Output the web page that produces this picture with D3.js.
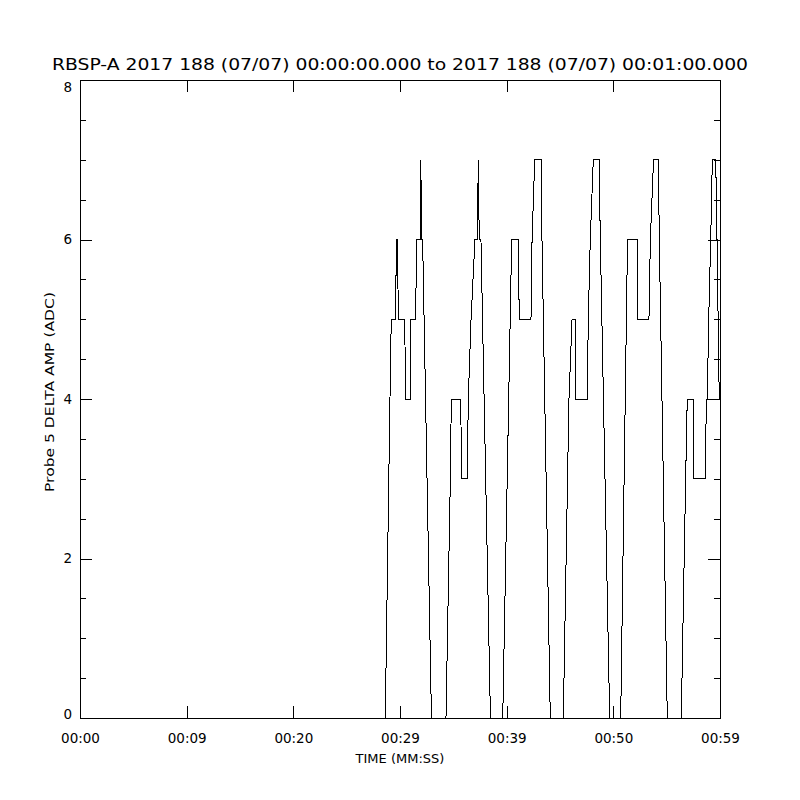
<!DOCTYPE html>
<html>
<head>
<meta charset="utf-8">
<script src="https://cdn.jsdelivr.net/npm/d3@7"></script>
<style>
  html, body { margin: 0; padding: 0; background: #fff; }
  svg { display: block; }
  text { font-family: "DejaVu Sans", "Liberation Sans", sans-serif; fill: #000; }
</style>
</head>
<body>
<svg id="chart" width="800" height="800"></svg>
<script>
// ---- data ----
const titleText = "RBSP-A 2017 188 (07/07) 00:00:00.000 to 2017 188 (07/07) 00:01:00.000";
const xAxisTitle = "TIME (MM:SS)";
const yAxisTitle = "Probe 5 DELTA AMP (ADC)";

const timeTicks = [0, 10, 20, 30, 40, 50, 60];
const timeTickLabels = ["00:00", "00:09", "00:20", "00:29", "00:39", "00:50", "00:59"];
const ampTicks = [0, 2, 4, 6, 8];
const ampMinorTicks = [0.5, 1, 1.5, 2.5, 3, 3.5, 4.5, 5, 5.5, 6.5, 7, 7.5];

// seconds after 00:00:00
const times = [
  0.00, 28.62,
  29.06, 29.18, 29.60, 29.65, 29.77, 29.84, 30.44, 30.53, 30.94, 31.03, 31.47, 31.55, 31.88, 31.95, 32.03, 32.12, 32.95,
  34.31, 34.72, 34.81, 35.69, 35.78, 36.31, 36.40, 36.66, 37.03, 37.25, 37.34, 37.43, 37.59, 38.48,
  39.63, 40.47, 41.09, 41.18, 42.28, 42.38, 42.63, 43.22, 43.31, 44.09,
  45.31, 45.84, 46.13, 46.41, 46.47, 47.56, 47.65, 47.84, 48.12, 48.66, 48.78, 49.66,
  50.69, 51.33, 52.25, 52.31, 53.34, 53.47, 53.77, 54.22, 54.31, 55.06,
  56.37, 56.78, 56.93, 57.50, 57.56, 58.62, 58.72, 58.81, 58.94, 59.13, 59.28, 59.60, 59.72, 59.93, 60.00, 58.72
];
// ADC counts
const amps = [
  0, 0,
  4, 5, 5, 6, 6, 5, 5, 4, 4, 5, 5, 6, 6, 7, 6, 6, 0,
  0, 3, 4, 4, 3, 3, 4, 5, 6, 6, 7, 6, 6, 0,
  0, 6, 6, 5, 5, 6, 7, 7, 6, 0,
  0, 4, 5, 5, 4, 4, 5, 6, 7, 7, 6, 0,
  0, 6, 6, 5, 5, 6, 7, 7, 6, 0,
  0, 3, 4, 4, 3, 3, 4, 4, 5, 6, 7, 7, 6, 4, 4, 4
];

// ---- layout ----
const L = 80, R = 720, T = 80, B = 718;
const svg = d3.select("#chart");

const x = d3.scaleLinear().domain([0, 60]).range([L, R]);
const y = d3.scaleLinear().domain([0, 8]).range([B, T]);

const points = times.map((t, i) => [t, amps[i]]);

svg.append("defs").append("clipPath").attr("id", "clip")
  .append("rect").attr("x", L).attr("y", T).attr("width", R - L + 1).attr("height", B - T);

// data line (aliased like the original)
svg.append("path")
  .datum(points)
  .attr("clip-path", "url(#clip)")
  .attr("fill", "none")
  .attr("stroke", "#000")
  .attr("stroke-width", 1)
  .attr("shape-rendering", "crispEdges")
  .attr("d", d3.line().x(d => x(d[0])).y(d => y(d[1])));

function styleAxis(g) {
  g.select(".domain").remove();
  g.selectAll(".tick line").attr("stroke", "#000").attr("shape-rendering", "crispEdges");
}

// bottom axis with labels
svg.append("g").attr("transform", `translate(0,${B})`)
  .call(d3.axisBottom(x).tickValues(timeTicks).tickSize(-12).tickPadding(15)
    .tickFormat((d, i) => timeTickLabels[i]))
  .call(styleAxis)
  .call(g => g.selectAll("text").attr("font-size", 13.5).attr("font-family", "DejaVu Sans, sans-serif"));

// top axis
svg.append("g").attr("transform", `translate(0,${T})`)
  .call(d3.axisTop(x).tickValues(timeTicks).tickSize(-12).tickFormat(""))
  .call(styleAxis);

// left axis major (end labels nudged inside like the original)
svg.append("g").attr("transform", `translate(${L},0)`)
  .call(d3.axisLeft(y).tickValues(ampTicks).tickSize(-12).tickPadding(8).tickFormat(d3.format("d")))
  .call(styleAxis)
  .call(g => g.selectAll("text")
    .attr("font-size", 13.5)
    .attr("font-family", "DejaVu Sans, sans-serif")
    .attr("dy", d => d === 8 ? "0.85em" : d === 0 ? "0.0em" : "0.32em"));
// left minor
svg.append("g").attr("transform", `translate(${L},0)`)
  .call(d3.axisLeft(y).tickValues(ampMinorTicks).tickSize(-6).tickFormat(""))
  .call(styleAxis);

// right axis major + minor
svg.append("g").attr("transform", `translate(${R},0)`)
  .call(d3.axisRight(y).tickValues(ampTicks).tickSize(-12).tickFormat(""))
  .call(styleAxis);
svg.append("g").attr("transform", `translate(${R},0)`)
  .call(d3.axisRight(y).tickValues(ampMinorTicks).tickSize(-6).tickFormat(""))
  .call(styleAxis);

// frame
svg.append("rect")
  .attr("x", L).attr("y", T).attr("width", R - L).attr("height", B - T)
  .attr("fill", "none").attr("stroke", "#000").attr("stroke-width", 1)
  .attr("shape-rendering", "crispEdges");

// title
svg.append("text")
  .attr("x", 400).attr("y", 70)
  .attr("text-anchor", "middle")
  .attr("font-size", 16)
  .attr("textLength", 696)
  .attr("lengthAdjust", "spacingAndGlyphs")
  .text(titleText);

// x axis title
svg.append("text")
  .attr("x", 400).attr("y", 763)
  .attr("text-anchor", "middle")
  .attr("font-size", 13)
  .text(xAxisTitle);

// y axis title
svg.append("text")
  .attr("transform", `translate(54,392) rotate(-90)`)
  .attr("text-anchor", "middle")
  .attr("font-size", 13)
  .attr("textLength", 200)
  .attr("lengthAdjust", "spacingAndGlyphs")
  .text(yAxisTitle);
</script>
</body>
</html>
